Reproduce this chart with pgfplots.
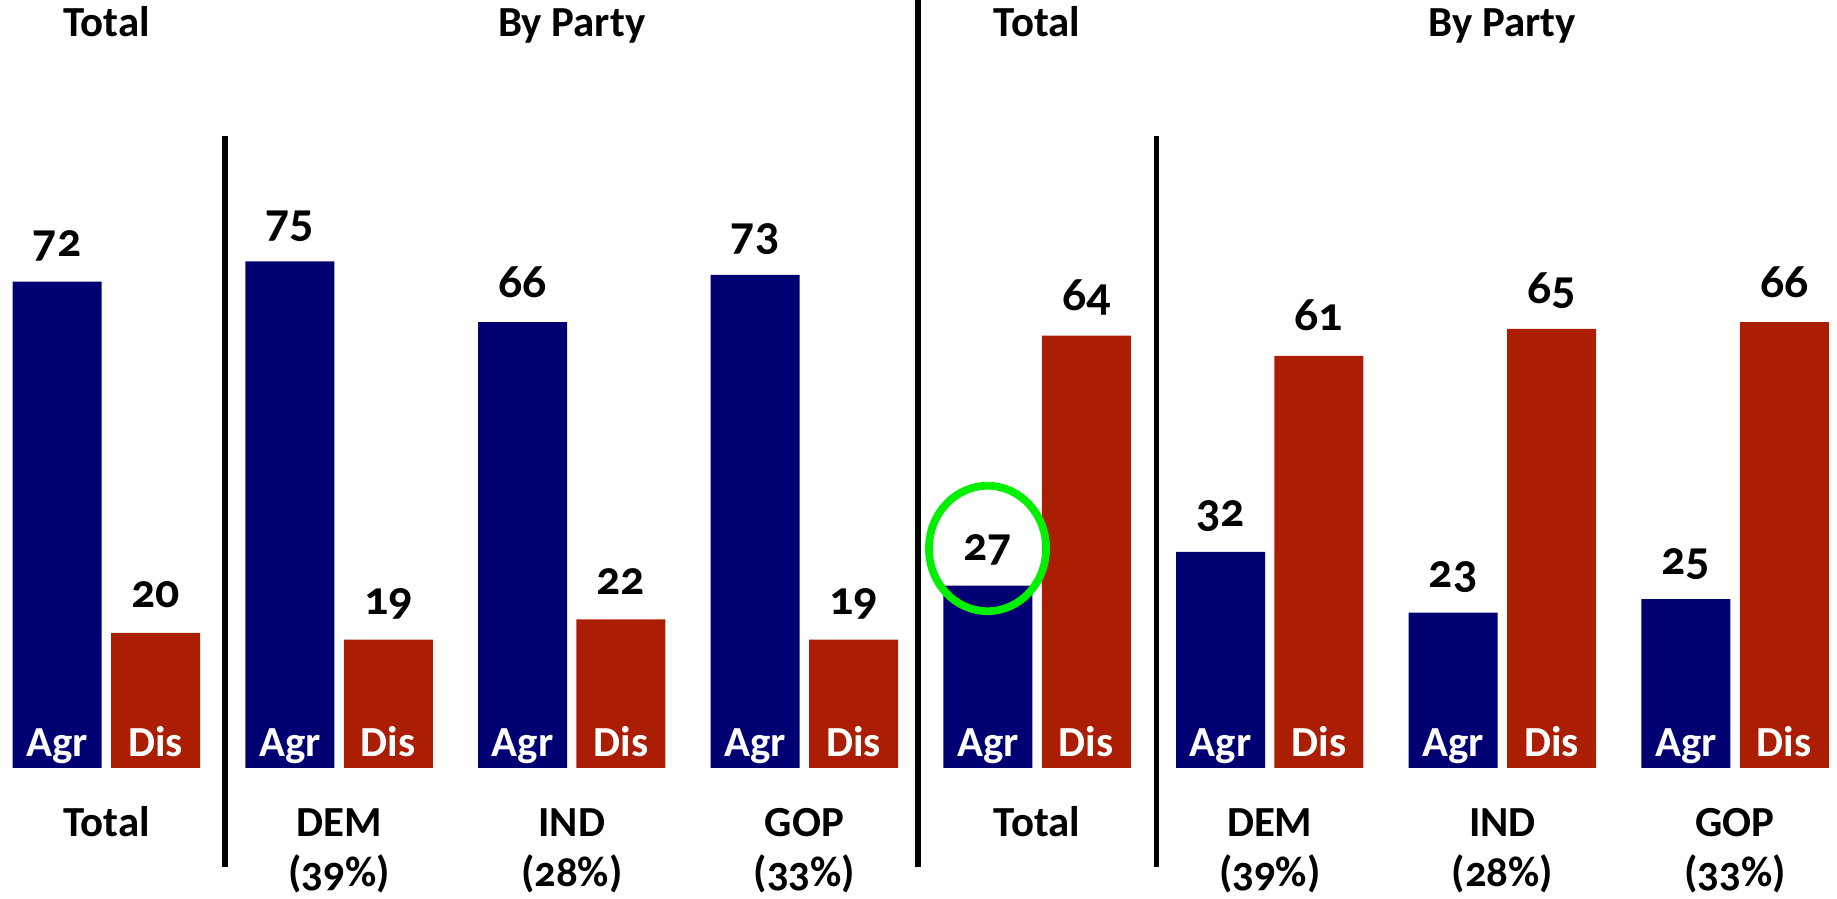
\documentclass[border=0pt]{standalone}
\usepackage{fontspec}
\setmainfont{Carlito}[Numbers=OldStyle]
\usepackage{pgfplots}
\pgfplotsset{compat=1.18}
\definecolor{agr}{RGB}{0,0,115}
\definecolor{dis}{RGB}{172,30,4}
\definecolor{ring}{RGB}{0,240,0}
\tikzset{lbl/.style={font=\fontsize{12.2}{14}\selectfont\bfseries, inner sep=0pt, anchor=base}}
\begin{document}
\begin{tikzpicture}
\begin{axis}[
  width=18.37cm, height=8.98cm, scale only axis,
  xmin=-0.4573, xmax=7.438, ymin=-19.25, ymax=113.71,
  hide axis, clip=false,
  ybar, bar width=0.3825, bar shift=0pt,
  /pgf/number format/assume math mode=true,
  nodes near coords,
  every node near coord/.append style={font=\fontsize{13.6}{16}\selectfont\bfseries,
    anchor=base, inner sep=0pt, yshift=2.5mm, text=black},
]
  % agree
  \addplot[fill=agr, draw=none] coordinates {
    (-0.2115,72) (0.7885,75) (1.7885,66) (2.7885,73)
    (3.7885,27) (4.7885,32) (5.7885,23) (6.7885,25)};
  % disagree
  \addplot[fill=dis, draw=none] coordinates {
    (0.2115,20) (1.2115,19) (2.2115,22) (3.2115,19)
    (4.2115,64) (5.2115,61) (6.2115,65) (7.2115,66)};

  \pgfplotsinvokeforeach{0,...,7}{
    \node[lbl, text=white] at (axis cs:#1-0.2115,1.63) {Agr};
    \node[lbl, text=white] at (axis cs:#1+0.2115,1.63) {Dis};
  }

  % titles
  \node[lbl] at (axis cs:0,108.3) {Total};
  \node[lbl] at (axis cs:2,108.3) {By Party};
  \node[lbl] at (axis cs:4,108.3) {Total};
  \node[lbl] at (axis cs:6,108.3) {By Party};

  % group names
  \node[lbl] at (axis cs:0,-10.17) {Total};
  \node[lbl] at (axis cs:1,-10.17) {DEM};
  \node[lbl] at (axis cs:1,-17.57) {(39\%)};
  \node[lbl] at (axis cs:2,-10.17) {IND};
  \node[lbl] at (axis cs:2,-17.57) {(28\%)};
  \node[lbl] at (axis cs:3,-10.17) {GOP};
  \node[lbl] at (axis cs:3,-17.57) {(33\%)};
  \node[lbl] at (axis cs:4,-10.17) {Total};
  \node[lbl] at (axis cs:5,-10.17) {DEM};
  \node[lbl] at (axis cs:5,-17.57) {(39\%)};
  \node[lbl] at (axis cs:6,-10.17) {IND};
  \node[lbl] at (axis cs:6,-17.57) {(28\%)};
  \node[lbl] at (axis cs:7,-10.17) {GOP};
  \node[lbl] at (axis cs:7,-17.57) {(33\%)};

  % separators
  \draw[line width=1.6pt] (axis cs:0.51,93.6) -- (axis cs:0.51,-14.66);
  \draw[line width=1.6pt] (axis cs:4.513,93.6) -- (axis cs:4.513,-14.66);
  \draw[line width=1.7pt] (axis cs:3.49,113.71) -- (axis cs:3.49,-14.66);

  % highlight
  \draw[ring, line width=2.2pt] (axis cs:3.787,32.5) ellipse [x radius=5.86mm, y radius=6.27mm];
\end{axis}
\pgfresetboundingbox
\path (current axis.south west) rectangle (current axis.north east);
\end{tikzpicture}
\end{document}
